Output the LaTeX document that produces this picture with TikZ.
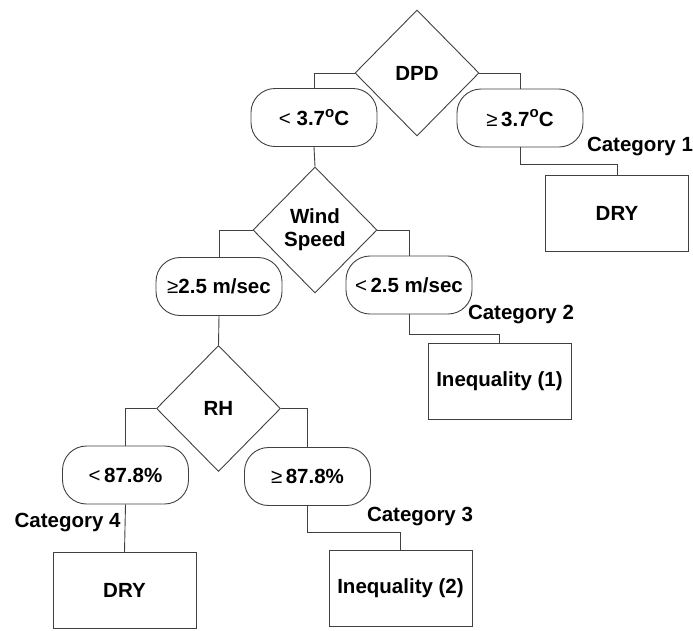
\documentclass[tikz,border=0pt]{standalone}
\usepackage{fontspec}
\setmainfont{Liberation Sans}
\usetikzlibrary{shapes.geometric}
\newcommand{\degsup}{\raisebox{0.42em}{\fontsize{15}{15}\selectfont o}}

\begin{document}
\begin{tikzpicture}[x=1pt,y=-1pt,line width=0.9pt,
  font=\fontsize{20.5}{23}\selectfont\bfseries,
  link/.style={draw=black!75},
  test/.style={diamond,draw=black!75,aspect=1,inner sep=0pt,minimum width=124pt,minimum height=126pt,align=center},
  branch/.style={rectangle,draw=black!75,rounded corners=24pt,minimum width=126pt,minimum height=58pt,inner sep=0pt},
  result/.style={rectangle,draw=black!75,minimum width=143pt,minimum height=76pt,inner sep=0pt},
  cat/.style={inner sep=0pt}]
\useasboundingbox (0,0) rectangle (693,630);
\node[test] (dpd) at (417,73) {DPD};
\node[branch] (dlt) at (314,117.5) {\textmd{<} 3.7\degsup C};
\node[branch] (dge) at (520,118) {\textmd{≥}\,3.7\degsup C};
\node[result] (dry1) at (617,213.5) {DRY};
\node[cat] (c1) at (640,147) {Category 1};
\node[test] (ws) at (315,230) {Wind\\Speed};
\node[branch] (wge) at (219,286.5) {\textmd{≥}2.5 m/sec};
\node[branch] (wlt) at (409,285) {\textmd{<}\,2.5 m/sec};
\node[result] (ineq1) at (499.5,381) {Inequality (1)};
\node[cat] (c2) at (521,315) {Category 2};
\node[test] (rh) at (218.5,408.5) {RH};
\node[branch] (rlt) at (125.5,475) {\textmd{<}\,87.8\%};
\node[branch] (rge) at (307.5,476.5) {\textmd{≥}\,87.8\%};
\node[result] (ineq2) at (400.5,588) {Inequality (2)};
\node[cat] (c3) at (420,517) {Category 3};
\node[result] (dry4) at (124.5,590.5) {DRY};
\node[cat,anchor=east] (c4) at (121,523) {Category 4};
% DPD split
\draw[link] (dpd.west) -| (dlt.north);
\draw[link] (dpd.east) -| (dge.north);
\draw[link] (dge.south) -- ++(0,17) -| (dry1.north);
% wind speed split
\draw[link] (dlt.south) -- (ws.north);
\draw[link] (ws.west) -| (wge.north);
\draw[link] (ws.east) -| (wlt.north);
\draw[link] (wlt.south) -- ++(0,20) -| (ineq1.north);
% RH split
\draw[link] (wge.south) -- (rh.north);
\draw[link] (rh.west) -| (rlt.north);
\draw[link] (rh.east) -| (rge.north);
\draw[link] (rge.south) -- ++(0,26) -| (ineq2.north);
\draw[link] (rlt.south) -- (dry4.north);
\end{tikzpicture}
\end{document}
